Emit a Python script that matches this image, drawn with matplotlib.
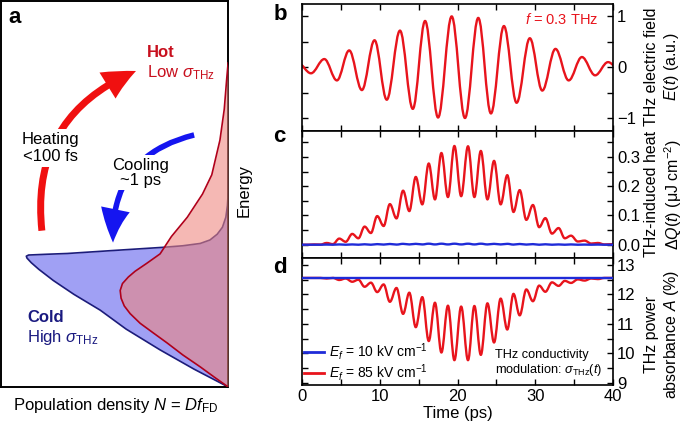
import matplotlib
matplotlib.use("Agg")
import matplotlib.pyplot as plt
from matplotlib.path import Path
from matplotlib.patches import PathPatch, FancyArrowPatch, ArrowStyle
from matplotlib.lines import Line2D
from matplotlib.ticker import MultipleLocator

plt.rcParams['font.family'] = ['Liberation Sans', 'DejaVu Sans']
plt.rcParams['mathtext.fontset'] = 'custom'
plt.rcParams['mathtext.rm'] = 'Liberation Sans'
plt.rcParams['mathtext.it'] = 'Liberation Sans:italic'
plt.rcParams['mathtext.bf'] = 'Liberation Sans:bold'

# --- panel a: population N (0 at right edge) vs energy
cold_e = [0.0, 0.046, 0.096, 0.15, 0.199, 0.24, 0.276, 0.305, 0.322, 0.334, 0.339, 0.342,
          0.344, 0.346, 0.354, 0.362, 0.366, 0.372, 0.381, 0.396, 0.414, 0.44, 0.47, 0.5]
cold_n = [0.0, 0.15, 0.30, 0.45, 0.564, 0.68, 0.771, 0.835, 0.868, 0.887, 0.89, 0.88,
          0.80, 0.709, 0.5, 0.286, 0.2, 0.123, 0.08, 0.048, 0.025, 0.01, 0.003, 0.0]
hot_e = [0.0, 0.025, 0.052, 0.083, 0.114, 0.14, 0.165, 0.19, 0.21, 0.23, 0.25, 0.268, 0.285,
         0.3, 0.32, 0.345, 0.39, 0.44, 0.5, 0.55, 0.64, 0.72, 0.8, 0.84]
hot_n = [0.0, 0.06, 0.123, 0.2, 0.269, 0.33, 0.388, 0.432, 0.458, 0.472, 0.476, 0.466, 0.44,
         0.41, 0.36, 0.3, 0.25, 0.18, 0.113, 0.072, 0.036, 0.017, 0.006, 0.0]

# --- panel b: extrema of the THz field (ps, a.u.)
field_t = [-0.5, 1.15, 2.87, 4.49, 6.07, 7.7, 9.33, 10.9, 12.6, 14.25, 15.83, 17.5, 19.25,
           20.96, 22.67, 24.3, 25.97, 27.6, 29.3, 30.9, 32.6, 34.3, 36.0, 37.7, 39.36, 41.0]
field_v = [0.08, -0.12, 0.16, -0.26, 0.33, -0.45, 0.53, -0.64, 0.72, -0.82, 0.91, -0.99, 1.0,
           -1.0, 0.97, -0.91, 0.81, -0.70, 0.57, -0.46, 0.36, -0.26, 0.20, -0.16, 0.10, -0.08]

# --- panels c, d: extrema (peaks/troughs) times shared by both quantities
ext_t = [0.0, 0.75, 1.55, 2.37, 3.17, 3.98, 4.79, 5.62, 6.46, 7.25, 8.05, 8.86, 9.67, 10.5,
         11.3, 12.15, 13.0, 13.8, 14.63, 15.47, 16.3, 17.1, 17.93, 18.77, 19.6, 20.47, 21.35,
         22.17, 23.0, 23.85, 24.7, 25.55, 26.4, 27.2, 28.0, 28.85, 29.7, 30.5, 31.3, 32.15,
         33.0, 33.8, 34.6, 35.47, 36.35, 37.2, 38.05, 38.9, 40.0]
heat_85 = [0.0, 0.0, 0.001, 0.0005, 0.006, 0.002, 0.021, 0.010, 0.037, 0.022, 0.062, 0.040,
           0.098, 0.064, 0.139, 0.090, 0.185, 0.115, 0.232, 0.138, 0.278, 0.155, 0.314, 0.163,
           0.338, 0.166, 0.337, 0.163, 0.321, 0.155, 0.287, 0.138, 0.238, 0.112, 0.187, 0.085,
           0.136, 0.060, 0.091, 0.038, 0.057, 0.022, 0.031, 0.011, 0.014, 0.004, 0.006, 0.001, 0.002]
heat_10 = [0, 0, 0, 0, 0.0005, 0, 0.001, 0, 0.001, 0, 0.0015, 0, 0.002, 0.0005, 0.0025, 0.0005,
           0.003, 0.001, 0.003, 0.001, 0.0035, 0.001, 0.0035, 0.001, 0.0035, 0.001, 0.0035, 0.001,
           0.0035, 0.001, 0.003, 0.001, 0.003, 0.0005, 0.0025, 0.0005, 0.002, 0, 0.0015, 0, 0.001,
           0, 0.001, 0, 0.0005, 0, 0.0005, 0, 0]
absorb_85 = [12.56, 12.56, 12.56, 12.56, 12.54, 12.56, 12.49, 12.54, 12.43, 12.50, 12.26, 12.40,
             12.08, 12.34, 11.75, 12.22, 11.34, 12.06, 10.89, 11.91, 10.42, 11.72, 10.03, 11.62,
             9.77, 11.59, 9.77, 11.61, 9.95, 11.70, 10.37, 11.86, 10.81, 12.02, 11.29, 12.17,
             11.77, 12.30, 12.09, 12.41, 12.29, 12.46, 12.39, 12.51, 12.47, 12.54, 12.52, 12.56, 12.56]
absorb_10_t = [0.0, 40.0]
absorb_10 = [12.56, 12.56]

RED = "#e8141c"
BLUE = "#1f2bd8"


def wave_path(t, v, k=0.3634):
    # cubic bezier between consecutive extrema, flat tangents at each extremum
    verts = [(t[0], v[0])]
    codes = [Path.MOVETO]
    for i in range(len(t) - 1):
        d = t[i + 1] - t[i]
        verts += [(t[i] + k * d, v[i]), (t[i + 1] - k * d, v[i + 1]), (t[i + 1], v[i + 1])]
        codes += [Path.CURVE4] * 3
    return Path(verts, codes)


def add_wave(ax, t, v, color, z=2):
    ax.add_patch(PathPatch(wave_path(t, v), fill=False, ec=color, lw=1.7, zorder=z,
                           capstyle='round', joinstyle='round'))


def style(ax, bottom_labels=False):
    ax.set_xlim(0, 40)
    ax.xaxis.set_major_locator(MultipleLocator(10))
    ax.xaxis.set_minor_locator(MultipleLocator(5))
    ax.tick_params(which='both', direction='in', top=True, bottom=True, left=True, right=True,
                   labelleft=False, labelright=True, labelbottom=bottom_labels,
                   labelsize=12, width=1, length=4, pad=3)
    for s in ax.spines.values():
        s.set_linewidth(1.2)
    ax.yaxis.set_label_position('right')


fig = plt.figure(figsize=(6.85, 4.28), dpi=100)

# ---------------- panel a
ax_a = fig.add_axes([0.002, 0.096, 0.331, 0.901])
ax_a.fill_betweenx(cold_e, 0, cold_n, color="#a0a0f4", lw=0, zorder=1)
ax_a.plot(cold_n, cold_e, color="#1c1c7a", lw=1.2, zorder=2)
ax_a.fill_betweenx(hot_e, 0, hot_n, color="#ee867e", alpha=0.58, lw=0, zorder=3)
ax_a.plot(hot_n, hot_e, color="#b0001a", lw=1.2, zorder=4)
ax_a.set_xlim(1, 0)
ax_a.set_ylim(0, 1)
ax_a.set_xticks([])
ax_a.set_yticks([])
for s in ax_a.spines.values():
    s.set_linewidth(1.4)

heat_arrow = FancyArrowPatch((0.18, 0.398), (0.605, 0.822), transform=ax_a.transAxes,
                             connectionstyle="arc3,rad=-0.38",
                             arrowstyle=ArrowStyle.Simple(head_length=2.3, head_width=2.2, tail_width=0.5),
                             mutation_scale=10, color="#f01010", lw=0, zorder=5)
ax_a.add_patch(heat_arrow)
cool_arrow = FancyArrowPatch((0.862, 0.655), (0.493, 0.367), transform=ax_a.transAxes,
                             connectionstyle="arc3,rad=0.42",
                             arrowstyle=ArrowStyle.Simple(head_length=2.4, head_width=2.1, tail_width=0.4),
                             mutation_scale=10, color="#1515f0", lw=0, zorder=5)
ax_a.add_patch(cool_arrow)

ax_a.text(0.216, 0.62, "Heating\n<100 fs", transform=ax_a.transAxes, ha='center', va='center',
          fontsize=12, linespacing=1.15, zorder=6,
          bbox=dict(facecolor='white', edgecolor='none', pad=2))
ax_a.text(0.612, 0.556, "Cooling\n~1 ps", transform=ax_a.transAxes, ha='center', va='center',
          fontsize=12, linespacing=1.0, zorder=6,
          bbox=dict(facecolor='white', edgecolor='none', pad=2))
ax_a.text(0.643, 0.866, "Hot", transform=ax_a.transAxes, ha='left', va='center',
          fontsize=12, fontweight='bold', color="#c8101e")
ax_a.text(0.643, 0.814, r"Low $\sigma_{\rm THz}$", transform=ax_a.transAxes, ha='left', va='center',
          fontsize=12, color="#c8101e")
ax_a.text(0.115, 0.181, "Cold", transform=ax_a.transAxes, ha='left', va='center',
          fontsize=12, fontweight='bold', color="#1a1a80", zorder=6)
ax_a.text(0.115, 0.129, r"High $\sigma_{\rm THz}$", transform=ax_a.transAxes, ha='left', va='center',
          fontsize=12, color="#1a1a80", zorder=6)

fig.text(0.357, 0.555, "Energy", rotation=90, ha='center', va='center', fontsize=12)
fig.text(0.168, 0.052, r"Population density $N$ = $Df_{\rm FD}$", ha='center', va='center', fontsize=12)

# ---------------- panels b, c, d
ax_b = fig.add_axes([0.4409, 0.6945, 0.454, 0.297])
ax_c = fig.add_axes([0.4409, 0.3975, 0.454, 0.297])
ax_d = fig.add_axes([0.4409, 0.1005, 0.454, 0.297])

LABEL_X = 1.099

style(ax_b)
add_wave(ax_b, field_t, field_v, RED)
ax_b.set_ylim(-1.25, 1.25)
ax_b.set_yticks([-1, 0, 1])
ax_b.yaxis.set_minor_locator(MultipleLocator(0.5))
ax_b.set_ylabel("THz electric field\n$E(t)$ (a.u.)", fontsize=11.5, linespacing=1.2)
ax_b.yaxis.set_label_coords(LABEL_X, 0.5)
ax_b.text(0.952, 0.873, r"$f$ = 0.3 THz", transform=ax_b.transAxes, ha='right', va='center',
          fontsize=10.5, color=RED)

style(ax_c)
add_wave(ax_c, ext_t, heat_85, RED, z=2)
add_wave(ax_c, ext_t, heat_10, BLUE, z=3)
ax_c.set_ylim(-0.045, 0.39)
ax_c.set_yticks([0.0, 0.1, 0.2, 0.3])
ax_c.yaxis.set_minor_locator(MultipleLocator(0.05))
ax_c.set_ylabel("THz-induced heat\n$\\Delta Q(t)$ (μJ cm$^{-2}$)", fontsize=11.5, linespacing=1.2)
ax_c.yaxis.set_label_coords(LABEL_X, 0.5)

style(ax_d, bottom_labels=True)
add_wave(ax_d, ext_t, absorb_85, RED, z=2)
ax_d.plot(absorb_10_t, absorb_10, color=BLUE, lw=1.7, zorder=3)
ax_d.set_ylim(8.93, 13.24)
ax_d.set_yticks([9, 10, 11, 12, 13])
ax_d.yaxis.set_minor_locator(MultipleLocator(0.5))
ax_d.set_ylabel("THz power\nabsorbance $A$ (%)", fontsize=11.5, linespacing=1.2)
ax_d.yaxis.set_label_coords(LABEL_X, 0.4)
ax_d.set_xlabel("Time (ps)", fontsize=12, labelpad=1)
handles = [Line2D([], [], color=BLUE, lw=2), Line2D([], [], color=RED, lw=2)]
ax_d.legend(handles, [r"$E_f$ = 10 kV cm$^{-1}$", r"$E_f$ = 85 kV cm$^{-1}$"],
            loc='lower left', frameon=False, fontsize=10, handlelength=1.4, handletextpad=0.4,
            labelspacing=0.0, borderaxespad=0.0, borderpad=0.15)
ax_d.text(0.62, 0.17, "THz conductivity\nmodulation: $\\sigma_{\\rm THz}(t)$", transform=ax_d.transAxes,
          ha='left', va='center', fontsize=9.2, linespacing=1.15)

fig.text(0.012, 0.958, "a", fontsize=16, fontweight='bold', ha='left', va='center')
fig.text(0.399, 0.965, "b", fontsize=16, fontweight='bold', ha='left', va='center')
fig.text(0.399, 0.682, "c", fontsize=16, fontweight='bold', ha='left', va='center')
fig.text(0.399, 0.375, "d", fontsize=16, fontweight='bold', ha='left', va='center')

fig.savefig("out.png", dpi=100)
